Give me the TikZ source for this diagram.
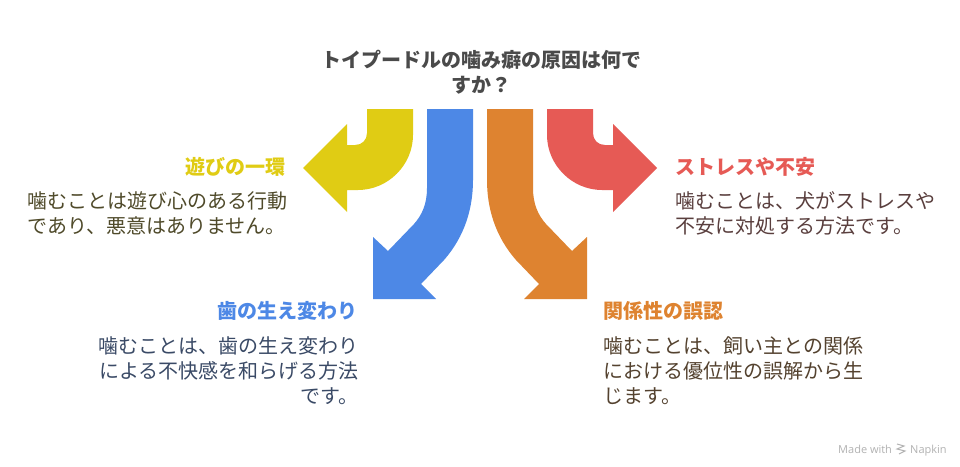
\documentclass[tikz,border=0pt]{standalone}
\usepackage{fontspec}
\setmainfont{Noto Sans CJK JP}
\newfontfamily\latinfont{Open Sans}
\definecolor{cy}{HTML}{E0CC14}
\definecolor{cb}{HTML}{4D88E6}
\definecolor{co}{HTML}{DE8330}
\definecolor{cr}{HTML}{E65A55}
\definecolor{ty}{HTML}{4F4A2A}
\definecolor{tb}{HTML}{3A4A66}
\definecolor{to}{HTML}{54422F}
\definecolor{tr}{HTML}{5A3F3E}
\definecolor{tt}{HTML}{4A4A4A}
\tikzset{
 arrowshape/.style={draw=none},
 txt/.style={inner sep=0pt,font=\fontsize{20}{25}\selectfont,align=left},
 head/.style={inner sep=0pt,font=\fontsize{20}{25}\selectfont\bfseries},
 mark text/.style={inner sep=0pt,anchor=base west,text=black!30,font=\latinfont\fontsize{11}{12}\selectfont},
}
\begin{document}
\begin{tikzpicture}[x=1pt,y=-1pt]
\useasboundingbox (0,0) rectangle (960,466);
\fill[white] (0,0) rectangle (960,466);
% yellow
\fill[cy,arrowshape] (367,109) -- (367,133) .. controls (367,140) and (362,145) .. (355,145) -- (347,145) -- (347,124) -- (303,168) -- (347,212) -- (347,190) -- (358,190) .. controls (388,190) and (413,165) .. (413,135) -- (413,109) -- cycle;
% red
\fill[cr,arrowshape] (593,109) -- (593,133) .. controls (593,140) and (598,145) .. (605,145) -- (613,145) -- (613,124) -- (657,168) -- (613,212) -- (613,190) -- (602,190) .. controls (572,190) and (547,165) .. (547,135) -- (547,109) -- cycle;
% blue
\fill[cb,arrowshape] (427,109) -- (427,188) .. controls (427,204) and (422,215) .. (414,224) -- (388,251) -- (373,237) -- (373,299) -- (436,299) -- (421,284) -- (444,260) .. controls (465,236) and (473,208) .. (473,180) -- (473,109) -- cycle;
% orange
\fill[co,arrowshape] (533,109) -- (533,188) .. controls (533,204) and (538,215) .. (546,224) -- (572,251) -- (587,237) -- (587,299) -- (524,299) -- (539,284) -- (516,260) .. controls (495,236) and (487,208) .. (487,180) -- (487,109) -- cycle;
% title
\node[inner sep=0pt,text=tt,font=\fontsize{20}{25}\selectfont\bfseries,align=center] (title) at (481,72.5) {トイプードルの噛み癖の原因は何で\\すか？};
% left
\node[head,text=cy,anchor=east] (h1) at (286,167) {遊びの一環};
\node[txt,text=ty,anchor=north west] (t1) at (27,191) {噛むことは遊び心のある行動\\であり、悪意はありません。};
\node[head,text=cb,anchor=east] (h2) at (358,311) {歯の生え変わり};
\node[txt,text=tb,anchor=north east,align=right] (t2) at (359,336) {噛むことは、歯の生え変わり\\による不快感を和らげる方法\\です。};
\node[head,text=co,anchor=west] (h3) at (603,311) {関係性の誤認};
\node[txt,text=to,anchor=north west] (t3) at (603,336) {噛むことは、飼い主との関係\\における優位性の誤解から生\\じます。};
\node[head,text=cr,anchor=west] (h4) at (675,167) {ストレスや不安};
\node[txt,text=tr,anchor=north west] (t4) at (675,191) {噛むことは、犬がストレスや\\不安に対処する方法です。};
% watermark
\node[mark text] (m1) at (838,453) {Made with};
\node[mark text] (m2) at (910,453) {Napkin};
\draw[black!30,line width=1pt] (897,444) -- (904,446) -- (897,449) -- (905,451) -- (899,454);
\end{tikzpicture}
\end{document}
